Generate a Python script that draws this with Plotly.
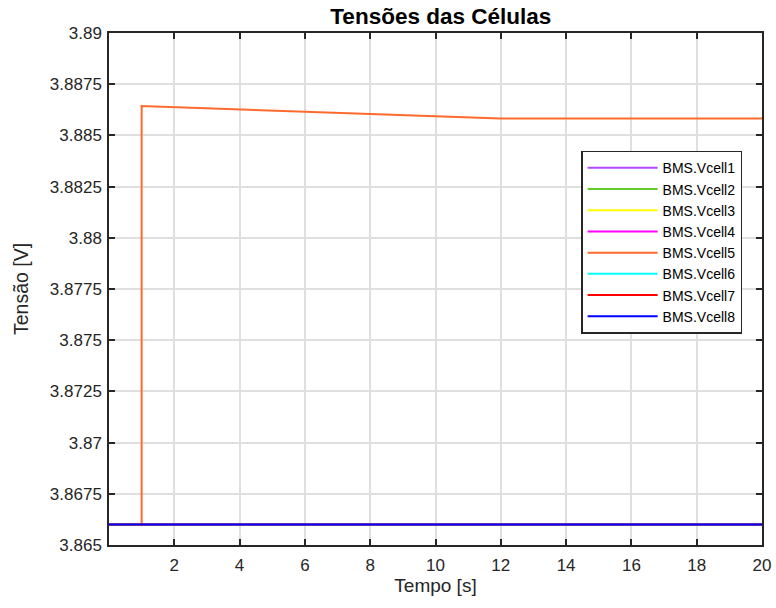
import plotly.graph_objects as go

# Cell voltage logs (time in seconds, voltage in volts)
series_names = ["BMS.Vcell1", "BMS.Vcell2", "BMS.Vcell3", "BMS.Vcell4",
                "BMS.Vcell5", "BMS.Vcell6", "BMS.Vcell7", "BMS.Vcell8"]
series_colors = ["#b347ff", "#5fcc2a", "#ffff00", "#ff00ff",
                 "#ff6a2e", "#00ffff", "#ff0000", "#0000ff"]

t_flat = [0, 20]
v_flat = [3.866, 3.866]

t_cell5 = [0, 1.0, 1.0, 12.0, 20]
v_cell5 = [3.866, 3.866, 3.88643, 3.88583, 3.88583]

x_ticks = [2, 4, 6, 8, 10, 12, 14, 16, 18, 20]
y_ticks = [3.865, 3.8675, 3.87, 3.8725, 3.875, 3.8775, 3.88,
           3.8825, 3.885, 3.8875, 3.89]
y_tick_text = ["3.865", "3.8675", "3.87", "3.8725", "3.875", "3.8775",
               "3.88", "3.8825", "3.885", "3.8875", "3.89"]

fig = go.Figure()
for name, color in zip(series_names, series_colors):
    if name == "BMS.Vcell5":
        xs, ys = t_cell5, v_cell5
    else:
        xs, ys = t_flat, v_flat
    fig.add_trace(go.Scatter(x=xs, y=ys, mode="lines", name=name,
                             line=dict(color=color, width=2)))

axis_color = "#262626"
font_family = "Liberation Sans, Arial, sans-serif"

fig.update_layout(
    width=776, height=608,
    margin=dict(l=109, r=14, t=33, b=63),
    paper_bgcolor="white", plot_bgcolor="white",
    font=dict(family=font_family, color=axis_color, size=17),
    title=dict(text="<b>Tensões das Células</b>", x=0.568, xanchor="center",
               y=0.973, yanchor="middle",
               font=dict(size=22.5, color="black", family=font_family)),
    showlegend=True,
    legend=dict(x=0.723, y=0.77, xanchor="left", yanchor="top",
                bgcolor="white", bordercolor="#262626", borderwidth=1.5,
                font=dict(size=14, color="black", family=font_family),
                tracegroupgap=0, itemwidth=70),
)

fig.update_xaxes(
    range=[0, 20], tickvals=x_ticks, ticktext=[str(v) for v in x_ticks],
    ticks="inside", ticklen=6, tickwidth=1.5, tickcolor=axis_color,
    showline=True, linecolor=axis_color, linewidth=1.5, mirror="ticks",
    showgrid=True, gridcolor="#dfdfdf", gridwidth=1.5, zeroline=False,
    automargin=False, ticklabelstandoff=4,
    title=dict(text="Tempo [s]", font=dict(size=19), standoff=4),
    tickfont=dict(size=17),
)
fig.update_yaxes(
    range=[3.865, 3.89], tickvals=y_ticks, ticktext=y_tick_text,
    ticks="inside", ticklen=6, tickwidth=1.5, tickcolor=axis_color,
    showline=True, linecolor=axis_color, linewidth=1.5, mirror="ticks",
    showgrid=True, gridcolor="#dfdfdf", gridwidth=1.5, zeroline=False,
    automargin=False, ticklabelstandoff=2,
    title=dict(text="Tensão [V]", font=dict(size=19.5), standoff=16),
    tickfont=dict(size=17),
)

fig.write_html("out.html")
